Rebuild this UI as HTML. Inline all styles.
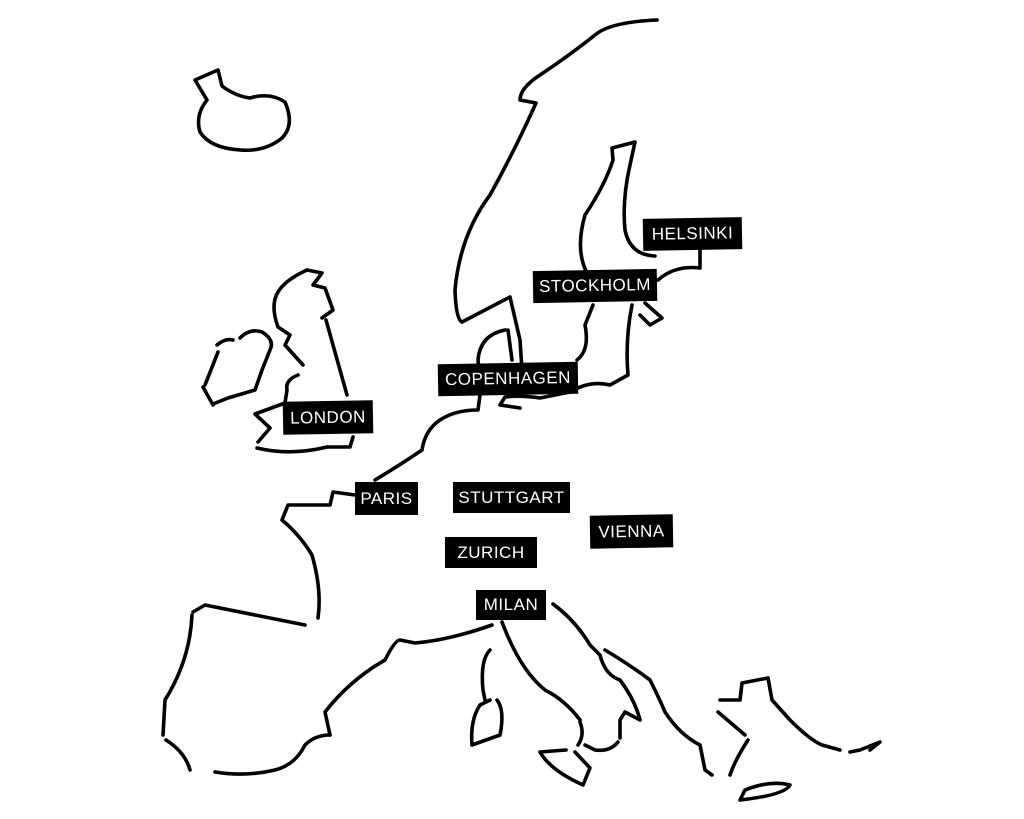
<!DOCTYPE html>
<html><head><style>
body{margin:0;background:#fff}
.l{position:absolute;background:#000;color:#fff;font-family:"Liberation Sans",sans-serif;font-size:17px;letter-spacing:.5px;display:flex;align-items:center;justify-content:center}
</style></head><body>
<div style="position:relative;width:1024px;height:819px;overflow:hidden">
<svg width="1024" height="819" style="position:absolute;left:0;top:0" fill="none" stroke="#000" stroke-width="3.6" stroke-linecap="round" stroke-linejoin="round">
<path d="M195,80 L218,70 L222,86 Q235,96 250,98 Q270,92 285,102 Q295,125 282,138 Q265,152 240,150 Q210,148 200,132 Q195,115 207,100 Z"/>
<path d="M307,270 L322,273 L313,285 L325,288 L333,310 L322,318"/>
<path d="M326,320 L347,395"/>
<path d="M307,270 Q285,280 278,292 Q270,305 278,327 L290,335 L285,345 L303,365"/>
<path d="M298,375 Q285,380 287,390 L285,403 L255,414 L270,428 L258,442"/>
<path d="M257,448 Q290,456 327,447 L350,447 L353,437"/>
<path d="M217,345 Q225,338 233,340 M240,338 Q250,328 262,332 Q275,340 270,350 L262,370 L255,390 L228,398 L213,404 M203,387 L213,405 M218,352 L205,385"/>
<path d="M657,20 Q610,22 595,35 Q570,55 540,75 Q520,88 520,100 L536,103 Q515,150 490,195 Q460,235 455,290 Q456,320 462,322 L510,297 L520,340 L522,370"/>
<path d="M508,330 L512,360"/>
<path d="M505,330 Q480,335 478,360 L480,380"/>
<path d="M577,360 Q590,350 585,325 L593,305"/>
<path d="M587,273 Q575,250 585,215 Q605,185 613,160 L612,148 L635,142 L630,165 Q622,200 625,230 Q630,255 655,256"/>
<path d="M658,280 Q675,265 700,268 L700,250"/>
<path d="M645,303 L662,318 L650,325 L640,315"/>
<path d="M632,305 Q625,340 628,375 L610,385 Q590,380 570,392 L540,398 Q520,395 505,397 L500,405 L520,408"/>
<path d="M480,395 L478,410 Q455,410 440,420 Q425,430 422,450 Q400,465 375,480"/>
<path d="M355,495 L333,492 L330,505 L288,505 L282,520 Q300,535 312,555 Q322,590 318,618"/>
<path d="M305,625 L205,605 L193,612"/>
<path d="M192,615 Q190,660 165,700 L163,735"/>
<path d="M166,740 Q185,752 190,770"/>
<path d="M215,772 Q245,777 275,770 Q295,765 305,745 Q315,735 330,735"/>
<path d="M330,735 L325,712 Q350,680 385,660 Q395,640 400,640 L415,643 Q450,640 492,625"/>
<path d="M490,650 Q480,660 483,690 L485,700 M490,700 L480,705 Q470,720 472,745 L500,735 Q505,710 497,700"/>
<path d="M502,622 Q520,670 545,690 Q565,700 580,720"/>
<path d="M553,604 Q575,620 590,645 L600,655 Q605,675 620,680 Q635,700 640,720 L625,712 L620,720 L620,738 M618,742 Q610,752 595,750 L585,745"/>
<path d="M580,722 Q585,735 578,745 M566,750 L540,752 Q550,770 583,785 L590,768 L575,752"/>
<path d="M605,650 Q630,665 650,680 Q660,700 665,712 Q680,735 700,745 L705,770 L712,775"/>
<path d="M720,700 L740,700 L742,683 L768,678 L772,700 L790,720 Q810,740 822,745 L840,750 M850,752 L860,750 L880,742 L870,750"/>
<path d="M718,712 L745,735 M748,740 Q735,760 730,775"/>
<path d="M745,790 Q770,780 790,785 Q785,795 740,800 Z"/>
</svg>
<div class="l" style="left:643px;top:218px;width:99px;height:32px;transform:rotate(-1deg)">HELSINKI</div>
<div class="l" style="left:533px;top:270px;width:124px;height:32px;transform:rotate(-1deg)">STOCKHOLM</div>
<div class="l" style="left:438px;top:363px;width:140px;height:32px;transform:rotate(-1deg)">COPENHAGEN</div>
<div class="l" style="left:283px;top:401px;width:90px;height:33px;transform:rotate(-1deg)">LONDON</div>
<div class="l" style="left:355px;top:482px;width:63px;height:33px">PARIS</div>
<div class="l" style="left:453px;top:482px;width:117px;height:31px">STUTTGART</div>
<div class="l" style="left:590px;top:515px;width:83px;height:33px;transform:rotate(-1deg)">VIENNA</div>
<div class="l" style="left:445px;top:537px;width:92px;height:31px">ZURICH</div>
<div class="l" style="left:476px;top:590px;width:70px;height:30px">MILAN</div>
</div>
</body></html>
